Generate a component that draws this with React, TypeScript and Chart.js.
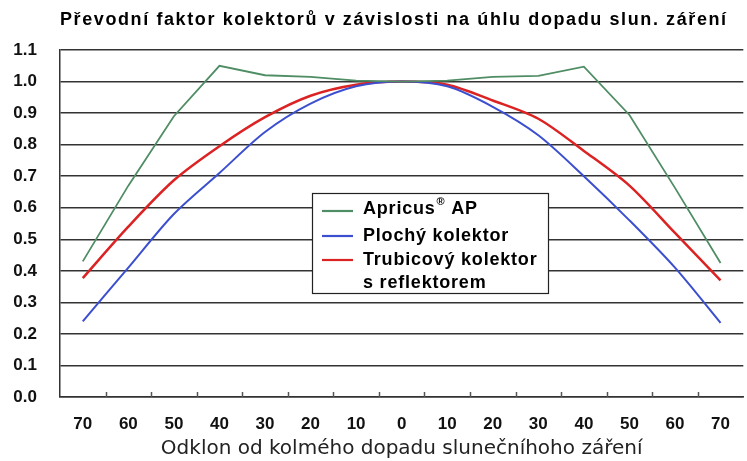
import React, { useEffect, useRef } from 'react';
import { Chart, registerables } from 'chart.js';

Chart.register(...registerables);

const chartTitle = 'Převodní faktor kolektorů v závislosti na úhlu dopadu slun. záření';
const xAxisTitle = 'Odklon od kolmého dopadu slunečníhoho záření';
const angleLabels = ['70', '60', '50', '40', '30', '20', '10', '0', '10', '20', '30', '40', '50', '60', '70'];
const apricusValues = [0.43, 0.67, 0.89, 1.05, 1.02, 1.015, 1.003, 1.0, 1.003, 1.015, 1.018, 1.047, 0.894, 0.663, 0.425];
const plochyValues = [0.24, 0.41, 0.58, 0.71, 0.84, 0.93, 0.985, 1.0, 0.985, 0.92, 0.83, 0.7, 0.56, 0.41, 0.235];
const trubicovyValues = [0.377, 0.54, 0.687, 0.795, 0.887, 0.955, 0.99, 1.0, 0.99, 0.94, 0.882, 0.78, 0.67, 0.52, 0.37];
const seriesNames = ['Apricus', 'Plochý kolektor', 'Trubicový kolektor', 's reflektorem'];
const yMin = 0;
const yMax = 1.1;
const yStep = 0.1;

const GREEN = '#4f8d64';
const BLUE = '#3c4fcf';
const RED = '#dc2323';
const GRID = '#333333';
const FONT = '"Liberation Sans", Arial, sans-serif';

const titlePlugin = {
  id: 'customTitle',
  afterDraw(chart: any) {
    const { ctx, chartArea } = chart;
    ctx.save();
    ctx.font = `bold 18px ${FONT}`;
    (ctx as any).letterSpacing = '1.6px';
    ctx.fillStyle = '#000';
    ctx.textAlign = 'left';
    ctx.textBaseline = 'middle';
    ctx.fillText(chartTitle, chartArea.left, 20);
    ctx.restore();
  },
};

const innerTicksPlugin = {
  id: 'innerTicks',
  afterDatasetsDraw(chart: any) {
    const { ctx } = chart;
    const x = chart.scales.x;
    const n = x.getLabels().length;
    const w = x.width / n;
    ctx.save();
    ctx.strokeStyle = '#555';
    ctx.lineWidth = 1.5;
    for (let i = 1; i < n; i++) {
      const px = Math.round(x.left + i * w) + 0.5;
      ctx.beginPath();
      ctx.moveTo(px, x.top - 5);
      ctx.lineTo(px, x.top);
      ctx.stroke();
    }
    ctx.restore();
  },
};

const legendPlugin = {
  id: 'customLegend',
  afterDatasetsDraw(chart: any) {
    const { ctx, chartArea } = chart;
    const bx = chartArea.left + 252;
    const by = chartArea.top + 143;
    const bw = 236;
    const bh = 100;
    ctx.save();
    ctx.fillStyle = '#fff';
    ctx.fillRect(bx, by, bw, bh);
    ctx.strokeStyle = '#222';
    ctx.lineWidth = 1.2;
    ctx.strokeRect(bx + 0.5, by + 0.5, bw, bh);
    const rows = [
      { color: GREEN, y: by + 18 },
      { color: BLUE, y: by + 43 },
      { color: RED, y: by + 67 },
    ];
    rows.forEach((r) => {
      ctx.strokeStyle = r.color;
      ctx.lineWidth = 2.2;
      ctx.beginPath();
      ctx.moveTo(bx + 10, r.y);
      ctx.lineTo(bx + 41, r.y);
      ctx.stroke();
    });
    ctx.fillStyle = '#000';
    ctx.textAlign = 'left';
    ctx.textBaseline = 'middle';
    (ctx as any).letterSpacing = '0.8px';
    ctx.font = `bold 18px ${FONT}`;
    const tx = bx + 51;
    ctx.fillText(seriesNames[0], tx, by + 16);
    const w0 = ctx.measureText(seriesNames[0]).width;
    ctx.font = `bold 11px ${FONT}`;
    ctx.fillText('®', tx + w0 + 1, by + 9);
    const wr = ctx.measureText('®').width;
    ctx.font = `bold 18px ${FONT}`;
    ctx.fillText(' AP', tx + w0 + 1 + wr, by + 16);
    ctx.fillText(seriesNames[1], tx, by + 43);
    ctx.fillText(seriesNames[2], tx, by + 67);
    ctx.fillText(seriesNames[3], tx, by + 90);
    ctx.restore();
  },
};

export default function App() {
  const canvasRef = useRef<HTMLCanvasElement | null>(null);

  useEffect(() => {
    if (!canvasRef.current) return;
    const chart = new Chart(canvasRef.current, {
      type: 'line',
      data: {
        labels: angleLabels,
        datasets: [
          {
            label: 'Apricus® AP',
            data: apricusValues,
            borderColor: GREEN,
            borderWidth: 1.8,
            pointRadius: 0,
            tension: 0,
          },
          {
            label: 'Plochý kolektor',
            data: plochyValues,
            borderColor: BLUE,
            borderWidth: 2,
            pointRadius: 0,
            tension: 0.3,
          },
          {
            label: 'Trubicový kolektor s reflektorem',
            data: trubicovyValues,
            borderColor: RED,
            borderWidth: 2.5,
            pointRadius: 0,
            tension: 0.3,
          },
        ],
      },
      options: {
        responsive: false,
        animation: false,
        layout: { padding: { top: 50, left: 0, right: 0, bottom: 0 } },
        plugins: {
          legend: { display: false },
          title: { display: false },
          tooltip: { enabled: false },
        },
        scales: {
          x: {
            type: 'category',
            offset: true,
            grid: { display: false, drawTicks: false },
            border: { display: true, color: GRID, width: 1.5 },
            ticks: {
              color: '#111',
              padding: 17,
              font: { family: FONT, size: 17, weight: 'bold' },
              maxRotation: 0,
              autoSkip: false,
            },
            title: {
              display: true,
              text: xAxisTitle,
              color: '#222',
              font: { family: '"DejaVu Sans", Verdana, sans-serif', size: 20, weight: 'normal' },
              padding: { top: 0, bottom: 0 },
            },
            afterFit(scale: any) {
              scale.height = 64;
            },
          },
          y: {
            min: yMin,
            max: yMax,
            grid: { color: GRID, lineWidth: 1.5, drawTicks: false },
            border: { display: true, color: GRID, width: 1.5 },
            ticks: {
              stepSize: yStep,
              color: '#111',
              padding: 23,
              font: { family: FONT, size: 17, weight: 'bold' },
              callback: (v: any) => Number(v).toFixed(1),
            },
            afterFit(scale: any) {
              scale.width = 60;
            },
          },
        },
      },
      plugins: [titlePlugin, innerTicksPlugin, legendPlugin],
    });
    return () => chart.destroy();
  }, []);

  return (
    <div style={{ position: 'fixed', left: 0, top: 0, width: 747, height: 461, background: '#fff' }}>
      <canvas ref={canvasRef} width={747} height={461} />
    </div>
  );
}
